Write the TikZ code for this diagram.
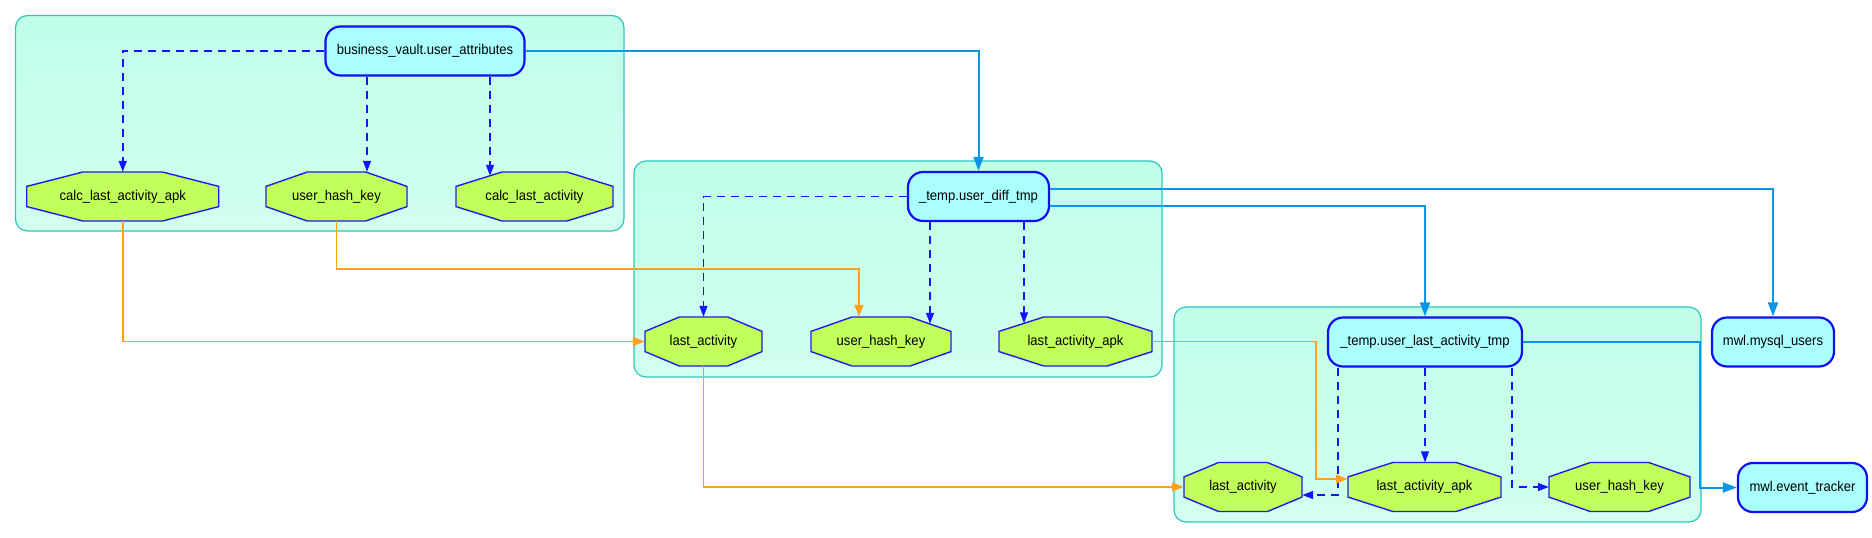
\documentclass[tikz,border=0pt]{standalone}
\usepackage{fontspec}
\setmainfont{Liberation Sans}[FakeStretch=0.92]
\usepackage{xcolor}
\usetikzlibrary{calc,arrows.meta}
\definecolor{TblLine}{RGB}{16,16,240}
\definecolor{TblFill}{RGB}{170,255,255}
\definecolor{AttrFill}{RGB}{193,255,90}
\definecolor{AttrLine}{RGB}{30,30,230}
\definecolor{ClusTop}{RGB}{192,255,232}
\definecolor{ClusBot}{RGB}{210,255,240}
\definecolor{ClusLine}{RGB}{40,200,190}
\definecolor{FlowBlue}{RGB}{14,150,230}
\definecolor{DashBlue}{RGB}{20,20,255}
\definecolor{FlowOrange}{RGB}{255,160,30}
\newcommand\attrnode[5]{% name, x, y, width, label
  \draw[AttrSty] (#2-0.5*#4,#3-10.1) -- (#2-0.207*#4,#3-24.5) -- (#2+0.207*#4,#3-24.5) -- (#2+0.5*#4,#3-10.1)
    -- (#2+0.5*#4,#3+10.1) -- (#2+0.207*#4,#3+24.5) -- (#2-0.207*#4,#3+24.5) -- (#2-0.5*#4,#3+10.1) -- cycle;
  \node[AttrText,minimum width=#4pt] at (#2,#3) (#1) {#5};
}
\newcommand\cluster[4]{% x1, y1, x2, y2
  \draw[ClusSty] (#1,#2) rectangle (#3,#4);
}
\begin{document}
\begin{tikzpicture}[x=1pt,y=-1pt,font=\fontsize{14.2}{16}\selectfont]
		\tikzstyle{ClusSty}=[draw=ClusLine,line width=1.2pt,rounded corners=12pt,top color=ClusTop,bottom color=ClusBot]
		\tikzstyle{TblSty}=[draw=TblLine,fill=TblFill,line width=2.2pt,rounded corners=15pt,minimum height=49pt,inner sep=0pt]
		\tikzstyle{AttrSty}=[draw=AttrLine,fill=AttrFill,line width=1.4pt]
		\tikzstyle{AttrText}=[minimum height=49pt,inner sep=0pt]
		\tikzstyle{FlowSty}=[-{Triangle[length=14pt,width=10pt]},color=FlowBlue,line width=2pt]
		\tikzstyle{KeySty}=[-{Triangle[length=11pt,width=8pt]},color=DashBlue,line width=1.5pt,dash pattern=on 8pt off 6pt]
		\tikzstyle{ColSty}=[-{Triangle[length=12pt,width=9pt]},color=FlowOrange,line width=1.8pt]

\useasboundingbox (0,0) rectangle (1872,538);

\cluster{15.5}{15.5}{624}{231}
\cluster{634}{161}{1162}{377}
\cluster{1174}{307}{1701}{522}

\node[TblSty,minimum width=199pt] at (425,51) (ua) {business\_vault.user\_attributes};
\node[TblSty,minimum width=141pt] at (978.5,196.5) (dt) {\_temp.user\_diff\_tmp};
\node[TblSty,minimum width=194pt] at (1425,342) (lt) {\_temp.user\_last\_activity\_tmp};
\node[TblSty,minimum width=122pt] at (1773,342) (mu) {mwl.mysql\_users};
\node[TblSty,minimum width=129pt] at (1802.5,487.5) (et) {mwl.event\_tracker};

\attrnode{c1apk}{122.75}{196.5}{192}{calc\_last\_activity\_apk}
\attrnode{c1hash}{336.5}{196.5}{141}{user\_hash\_key}
\attrnode{c1calc}{534.5}{196.5}{157}{calc\_last\_activity}
\attrnode{c2last}{703.5}{341.5}{117}{last\_activity}
\attrnode{c2hash}{881}{341.5}{140}{user\_hash\_key}
\attrnode{c2apk}{1075.5}{341.5}{153}{last\_activity\_apk}
\attrnode{c3last}{1243}{487}{118}{last\_activity}
\attrnode{c3apk}{1424.5}{487}{153}{last\_activity\_apk}
\attrnode{c3hash}{1619.5}{487}{141}{user\_hash\_key}

% keys inside each table
\draw[KeySty] (ua.west) -| (c1apk.north);
\draw[KeySty] ($(ua.south)+(-58,0)$) -- ($(c1hash.north)+(30.5,0)$);
\draw[KeySty] ($(ua.south)+(65,0)$) -- ($(c1calc.north)+(-44.5,4)$);
\draw[KeySty] (dt.west) -| (c2last.north);
\draw[KeySty] ($(dt.south)+(-48.5,0)$) -- ($(c2hash.north)+(49,7)$);
\draw[KeySty] ($(dt.south)+(45.5,0)$) -- ($(c2apk.north)+(-51.5,6.5)$);
\draw[KeySty] ($(lt.south)+(-87,0)$) |- ($(c3last.east)+(0,8)$);
\draw[KeySty] (lt.south) -- (lt.south |- c3apk.north);
\draw[KeySty] ($(lt.south)+(87,0)$) |- (c3hash.west);

% table lineage
\draw[FlowSty] (ua.east) -| (dt.north);
\draw[FlowSty] ($(dt.east)+(0,-7.5)$) -| (mu.north);
\draw[FlowSty] ($(dt.east)+(0,9.5)$) -| (lt.north);
\draw[FlowSty] (lt.east) -| ($(et.west)+(-37,0)$) -- (et.west);

% column lineage
\draw[ColSty] (c1apk.south) |- (c2last.west);
\draw[ColSty] (c1hash.south) |- ($(c2hash.north)+(-22,-48)$) -- ($(c2hash.north)+(-22,0)$);
\draw[ColSty] (c2last.south) |- (c3last.west);
\draw[ColSty] (c2apk.east) -| ($(c3apk.west)+(-32,-8)$) -- ($(c3apk.west)+(0,-8)$);

\end{tikzpicture}
\end{document}
